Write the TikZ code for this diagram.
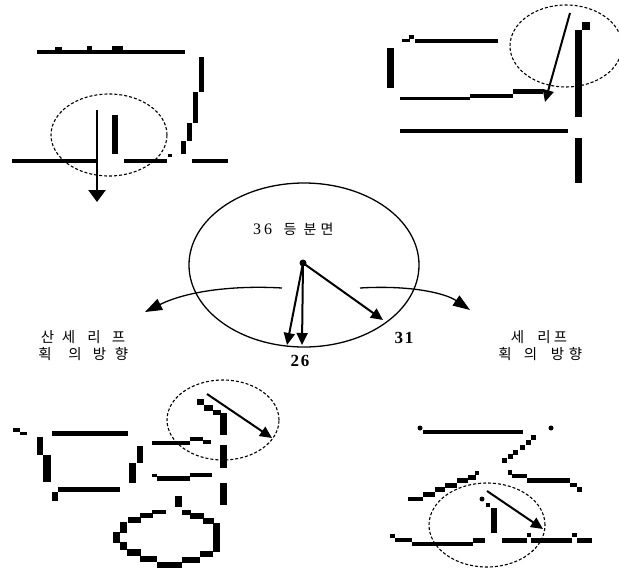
\documentclass[tikz,border=0pt]{standalone}
\usepackage{fontspec}
\setmainfont{Liberation Serif}
\newfontfamily\krfont{Noto Sans CJK KR}
\usetikzlibrary{arrows.meta}
\begin{document}
\begin{tikzpicture}[x=1pt,y=-1pt,
  circ/.style={draw=black, line width=1.1pt, dash pattern=on 3pt off 2pt},
  pointer/.style={draw=black, line width=2pt, -{Triangle[length=12pt,width=11pt]}},
  curvearrow/.style={draw=black, line width=1.3pt, -{Triangle[length=17pt,width=12pt]}},
  kr/.style={font=\krfont\fontsize{14.5}{14.5}\selectfont, inner sep=0pt},
  krc/.style={font=\krfont\fontsize{14}{14}\selectfont, inner sep=0pt},
  digit/.style={font=\fontsize{16}{16}\selectfont, inner sep=0pt},
  bnum/.style={font=\fontsize{17}{17}\selectfont\bfseries, inner sep=0pt}]
\useasboundingbox (0,0) rectangle (619,573);

% ---------- top-left glyph ----------
\fill (37,50) rectangle (185,54);
\fill (55,47) rectangle (62,51);
\fill (87,46) rectangle (92,51);
\fill (112,46) rectangle (123,51);
\fill (199,57) rectangle (204,92);
\fill (193,92) rectangle (198,123);
\fill (187,123) rectangle (192,141);
\fill (181,141) rectangle (186,154);
\fill (168,154) rectangle (172,157);
\fill (12,159) rectangle (97,163);
\fill (124,159) rectangle (167,163);
\fill (192,159) rectangle (228,163);
\fill (112,115) rectangle (118,154);
\draw[circ] (109,135) ellipse [x radius=58pt, y radius=41pt];
\coordinate (a1s) at (97,110);
\coordinate (a1e) at (97,202);
\draw[draw=black, line width=2.5pt, -{Triangle[length=12pt,width=17pt]}] (a1s) -- (a1e);

% ---------- top-right glyph ----------
\fill (402,39) rectangle (410,42);
\fill (409,35) rectangle (414,39);
\fill (415,39) rectangle (498,43);
\fill (387,48) rectangle (394,88);
\fill (400,97) rectangle (470,100);
\fill (470,94) rectangle (513,98);
\fill (513,89) rectangle (543,94);
\fill (400,129) rectangle (568,133);
\fill (575,30) rectangle (582,117);
\fill (582,22) rectangle (590,30);
\fill (575,138) rectangle (582,183);
\draw[circ] (566,46) ellipse [x radius=56pt, y radius=41pt];
\coordinate (a2s) at (570,13);
\coordinate (a2e) at (545,102);
\draw[pointer] (a2s) -- (a2e);

% ---------- centre ----------
\draw[line width=1.3pt] (304,265) ellipse [x radius=115pt, y radius=82pt];
\coordinate (c) at (303,263);
\fill (c) circle [radius=3.5pt];
\coordinate (t1) at (287,345);
\coordinate (t2) at (302,345);
\coordinate (t3) at (383,320);
\draw[pointer] (c) -- (t1);
\draw[pointer] (c) -- (t2);
\draw[pointer] (c) -- (t3);
\node[digit] (n3) at (257,229) {3};
\node[digit] (n6) at (268,229) {6};
\node[krc] (k1) at (290,229) {등};
\node[krc] (k2) at (310,229) {분};
\node[krc] (k3) at (327,229) {면};
\node[bnum] (n26) at (300,361) {2\kern2pt6};
\node[bnum] (n31) at (404,338) {3\kern2pt1};

\coordinate (bl0) at (282,288);
\coordinate (bl1) at (145,312);
\coordinate (br0) at (360,288);
\coordinate (br1) at (470,310);
\draw[curvearrow] (bl0) .. controls (230,285) and (185,292) .. (bl1);
\draw[curvearrow] (br0) .. controls (410,285) and (445,293) .. (br1);

% side labels
\node[kr] (l11) at (47.5,337) {산};
\node[kr] (l12) at (68.5,337) {세};
\node[kr] (l13) at (94,337) {리};
\node[kr] (l14) at (118.5,337) {프};
\node[kr] (l21) at (45,354) {획};
\node[kr] (l22) at (75,354) {의};
\node[kr] (l23) at (99.5,354) {방};
\node[kr] (l24) at (121.5,354) {향};
\node[kr] (r11) at (517.5,337) {세};
\node[kr] (r12) at (544,337) {리};
\node[kr] (r13) at (560.5,337) {프};
\node[kr] (r21) at (505,354) {획};
\node[kr] (r22) at (530.5,354) {의};
\node[kr] (r23) at (557.5,354) {방};
\node[kr] (r24) at (575.5,354) {향};

% ---------- bottom-left glyph ----------
\fill (13,428) rectangle (20,432);
\fill (20,432) rectangle (27,435);
\fill (37,437) rectangle (43,455);
\fill (43,455) rectangle (51,482);
\fill (52,431) rectangle (128,436);
\fill (52,492) rectangle (58,501);
\fill (58,487) rectangle (120,492);
\fill (137,446) rectangle (143,463);
\fill (129,463) rectangle (136,483);
\fill (152,441) rectangle (190,445);
\fill (190,437) rectangle (203,441);
\fill (203,440) rectangle (211,444);
\fill (152,474) rectangle (157,477);
\fill (157,476) rectangle (190,481);
\fill (190,473) rectangle (212,477);
\fill (197,399) rectangle (204,405);
\fill (204,405) rectangle (213,411);
\fill (213,410) rectangle (221,415);
\fill (220,413) rectangle (227,435);
\fill (220,445) rectangle (227,468);
\fill (220,483) rectangle (227,505);
\fill (175,496) rectangle (182,507);
% pixel ring
\fill (152,510) rectangle (166,514);
\fill (140,513) rectangle (153,518);
\fill (128,517) rectangle (141,523);
\fill (120,522) rectangle (127,533);
\fill (113,532) rectangle (120,543);
\fill (120,542) rectangle (127,550);
\fill (127,549) rectangle (141,556);
\fill (140,556) rectangle (157,562);
\fill (157,562) rectangle (182,568);
\fill (182,557) rectangle (200,563);
\fill (200,551) rectangle (213,557);
\fill (213,523) rectangle (220,552);
\fill (203,518) rectangle (214,524);
\fill (190,513) rectangle (204,519);
\fill (182,510) rectangle (191,515);
\draw[circ] (223,420) ellipse [x radius=56pt, y radius=40pt];
\coordinate (a3s) at (207,394);
\coordinate (a3e) at (272,438);
\draw[pointer] (a3s) -- (a3e);

% ---------- bottom-right glyph ----------
\fill (420,428) circle [radius=2.5pt];
\fill (423,430) rectangle (523,434);
\fill (551,428) circle [radius=2.5pt];
\foreach \px/\py in {533/437,528/442,522/447,515/452,510/456,504/460}
  \fill (\px-2.5,\py-2.5) rectangle (\px+2.5,\py+2.5);
\fill (475,471) rectangle (479,475);
\fill (468,475) rectangle (476,480);
\fill (457,478) rectangle (468,483);
\fill (445,483) rectangle (457,488);
\fill (435,487) rectangle (445,492);
\fill (423,492) rectangle (435,497);
\fill (408,497) rectangle (423,501);
\fill (508,470) rectangle (512,475);
\fill (512,474) rectangle (527,478);
\fill (527,478) rectangle (570,483);
\fill (570,483) rectangle (577,487);
\fill (577,487) rectangle (582,492);
\fill (482,499) circle [radius=2.5pt];
\fill (486,503) rectangle (490,507);
\fill (491,508) rectangle (497,533);
\fill (390,534) rectangle (395,538);
\fill (395,538) rectangle (412,542);
\fill (412,542) rectangle (473,546);
\fill (473,538) rectangle (485,543);
\fill (502,538) rectangle (527,543);
\fill (527,533) rectangle (531,537);
\fill (531,538) rectangle (572,543);
\fill (572,533) rectangle (577,537);
\fill (577,538) rectangle (592,543);
\draw[circ] (487,525) ellipse [x radius=58pt, y radius=42pt];
\coordinate (a4s) at (487,491);
\coordinate (a4e) at (543,529);
\draw[pointer] (a4s) -- (a4e);
\end{tikzpicture}
\end{document}
